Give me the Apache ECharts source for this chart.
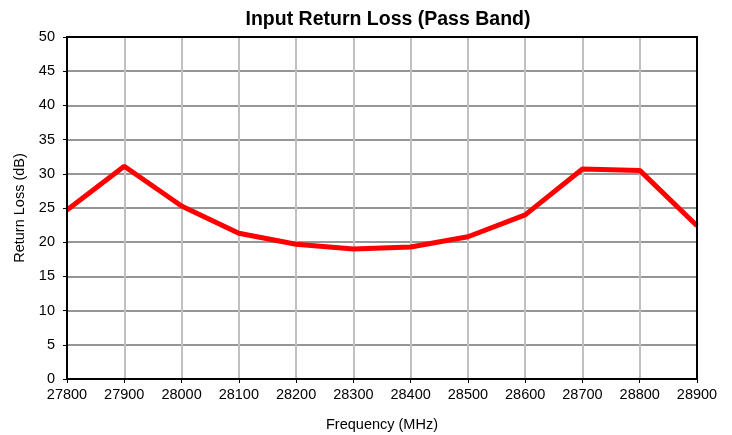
<!DOCTYPE html>
<html><head><meta charset="utf-8">
<script src="https://cdn.jsdelivr.net/npm/echarts@6/dist/echarts.min.js"></script>
<style>html,body{margin:0;padding:0;background:#fff}#c{width:732px;height:435px}</style>
</head><body><div id="c"></div>
<script>
const frequencies = [27800, 27900, 28000, 28100, 28200, 28300, 28400, 28500, 28600, 28700, 28800, 28900];
const returnLoss = [24.7, 31.1, 25.3, 21.3, 19.7, 19.0, 19.3, 20.8, 24.0, 30.7, 30.5, 22.4];
const title = 'Input Return Loss (Pass Band)';
const xName = 'Frequency (MHz)';
const yName = 'Return Loss (dB)';
const font = 'Liberation Sans, Arial, sans-serif';

const chart = echarts.init(document.getElementById('c'));
chart.setOption({
  animation: false,
  backgroundColor: '#fff',
  title: { text: title, left: 383, textAlign: 'center', top: 5, textStyle: { fontFamily: font, fontSize: 19.5, fontWeight: 'bold', color: '#000' } },
  grid: { left: 67, right: 35, top: 37, bottom: 56, show: true, borderColor: '#000', borderWidth: 2, z: 5, containLabel: false, outerBoundsMode: 'none' },
  xAxis: {
    type: 'value', min: 27800, max: 28900, interval: 100,
    name: xName, nameLocation: 'middle', nameGap: 38,
    nameTextStyle: { fontFamily: font, fontSize: 14.5, color: '#000' },
    axisLine: { show: true, lineStyle: { color: '#000', width: 2 } },
    axisTick: { show: true, length: 4, lineStyle: { color: '#000' } },
    axisLabel: { fontFamily: font, fontSize: 14.5, color: '#000', margin: 8, formatter: v => String(v) },
    splitLine: { show: true, lineStyle: { color: '#c0c0c0', width: 2 } }
  },
  yAxis: {
    type: 'value', min: 0, max: 50, interval: 5,
    name: yName, nameLocation: 'middle', nameGap: 40, nameRotate: 90,
    nameTextStyle: { fontFamily: font, fontSize: 14.5, color: '#000' },
    axisLine: { show: true, lineStyle: { color: '#000', width: 2 } },
    axisTick: { show: true, length: 4, lineStyle: { color: '#000' } },
    axisLabel: { fontFamily: font, fontSize: 14.5, color: '#000', margin: 12 },
    splitLine: { show: true, lineStyle: { color: '#969696', width: 2 } }
  },
  series: [{
    type: 'line',
    data: frequencies.map((f, i) => [f, returnLoss[i]]),
    showSymbol: false,
    lineStyle: { color: '#ff0000', width: 5 },
    itemStyle: { color: '#ff0000' }
  }]
});
</script></body></html>
